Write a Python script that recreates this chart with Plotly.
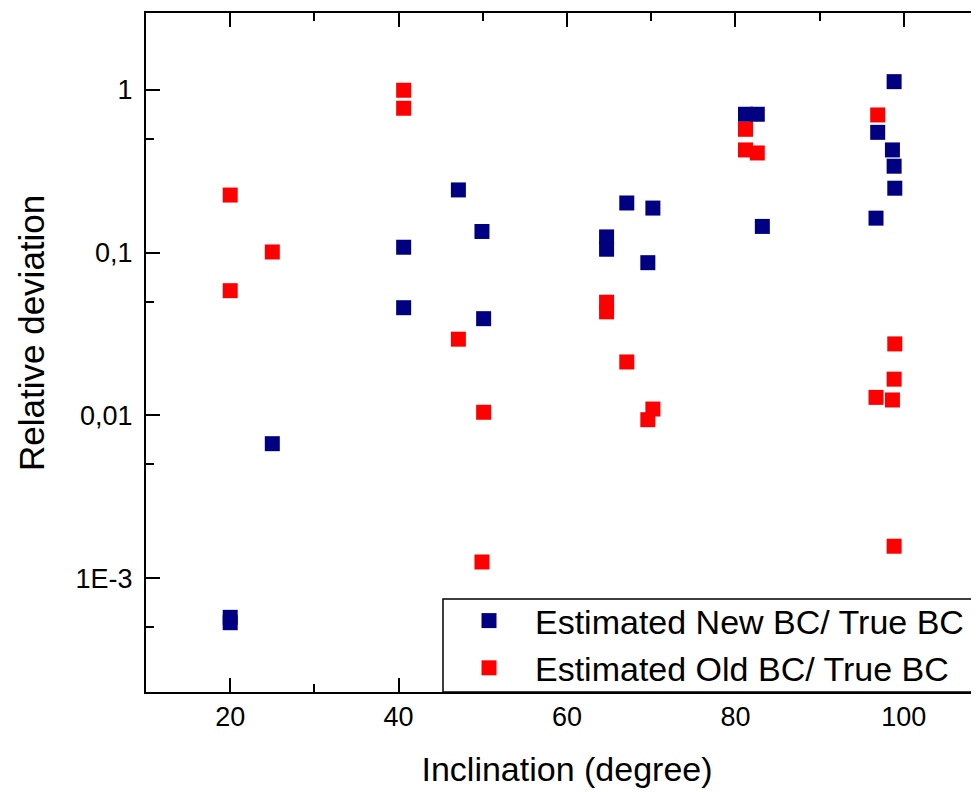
import plotly.graph_objects as go

# Inclination (degree) and relative deviation values
new_x = [20, 20, 25, 40.6, 40.6, 47.1, 49.9, 50.1, 64.7, 64.7, 67.1, 69.6, 70.2,
         81.2, 82.6, 83.2, 96.7, 96.9, 98.65, 98.85, 98.85, 98.93]
new_y = [5.74e-4, 5.32e-4, 0.0067, 0.108, 0.0459, 0.243, 0.135, 0.0393, 0.125, 0.105,
         0.202, 0.0868, 0.188, 0.709, 0.709, 0.145, 0.163, 0.549, 0.428, 1.125, 0.340, 0.249]

old_x = [20, 20, 25, 40.6, 40.6, 47.1, 49.9, 50.1, 64.7, 64.7, 67.1, 69.6, 70.2,
         81.2, 81.2, 82.6, 96.7, 96.9, 98.65, 98.85, 98.85, 98.93]
old_y = [0.226, 0.0584, 0.101, 0.996, 0.772, 0.0294, 0.001256, 0.01045, 0.0496, 0.0433,
         0.0213, 0.00941, 0.01094, 0.573, 0.428, 0.410, 0.0129, 0.702, 0.01244, 0.0167,
         0.00157, 0.0275]

y_tickvals = [1e-3, 1e-2, 1e-1, 1]
y_ticktext = ["1E-3", "0,01", "0,1", "1"]
y_minor = [5e-4, 5e-3, 5e-2, 5e-1]
x_tickvals = [20, 40, 60, 80, 100]
x_minor = [10, 30, 50, 70, 90, 110]

FONT = "Arial, 'Liberation Sans', sans-serif"
NAVY = "#000080"
RED = "#FF0000"

fig = go.Figure()
fig.add_trace(go.Scatter(x=new_x, y=new_y, mode="markers", name="Estimated New BC/ True BC",
                         marker=dict(symbol="square", size=15, color=NAVY, line=dict(width=0))))
fig.add_trace(go.Scatter(x=old_x, y=old_y, mode="markers", name="Estimated Old BC/ True BC",
                         marker=dict(symbol="square", size=15, color=RED, line=dict(width=0))))

LOG_RANGE = [-3.70, 0.473]
W, H = 980, 784
plot_l, plot_r, plot_t, plot_b = 138, 980, 5, 684
legend_left, legend_top = 435, 591   # frame of the legend box (page pixels)

def px_x(p):
    return (p - plot_l) / (plot_r - plot_l)

def px_y(p):
    return (plot_b - p) / (plot_b - plot_t)

fig.update_layout(
    width=W, height=H,
    margin=dict(l=plot_l, r=W - plot_r, t=plot_t, b=H - plot_b, autoexpand=False),
    paper_bgcolor="white", plot_bgcolor="white",
    font=dict(family=FONT, size=27, color="black"),
    showlegend=True,
    legend=dict(x=px_x(legend_left), xanchor="left", y=px_y(584), yanchor="top",
                itemwidth=82,
                bgcolor="rgba(0,0,0,0)", borderwidth=0,
                font=dict(size=34, family=FONT), tracegroupgap=0, itemsizing="trace"),
    shapes=[dict(type="rect", xref="paper", yref="paper",
                 x0=px_x(legend_left), x1=1.05, y0=0, y1=px_y(legend_top),
                 line=dict(color="black", width=1.5), fillcolor="white", layer="above")],
    xaxis=dict(range=[10, 110], showline=True, linecolor="black", linewidth=2,
               mirror="ticks", ticks="inside", ticklen=14, tickwidth=2, tickcolor="black",
               tickmode="array", tickvals=x_tickvals, ticktext=[str(v) for v in x_tickvals],
               showgrid=False, zeroline=False, automargin=False,
               minor=dict(tickmode="array", tickvals=x_minor, ticks="inside", ticklen=8,
                          tickwidth=2, tickcolor="black", showgrid=False),
               title=dict(text="Inclination (degree)", font=dict(size=34), standoff=26),
               tickfont=dict(size=27)),
    yaxis=dict(type="log", range=LOG_RANGE, showline=True, linecolor="black", linewidth=2,
               mirror="ticks", ticks="inside", ticklen=14, tickwidth=2, tickcolor="black",
               tickmode="array", tickvals=y_tickvals, ticktext=y_ticktext,
               showgrid=False, zeroline=False, automargin=False, ticklabelstandoff=6,
               minor=dict(tickmode="array", tickvals=y_minor, ticks="inside", ticklen=8,
                          tickwidth=2, tickcolor="black", showgrid=False),
               tickfont=dict(size=27)),
    annotations=[dict(text="Relative deviation",
                      x=px_x(23), xref="paper", y=px_y(325), yref="paper",
                      showarrow=False, textangle=-90, font=dict(size=35, family=FONT),
                      xanchor="center", yanchor="middle")],
)

fig.write_html("out.html")
